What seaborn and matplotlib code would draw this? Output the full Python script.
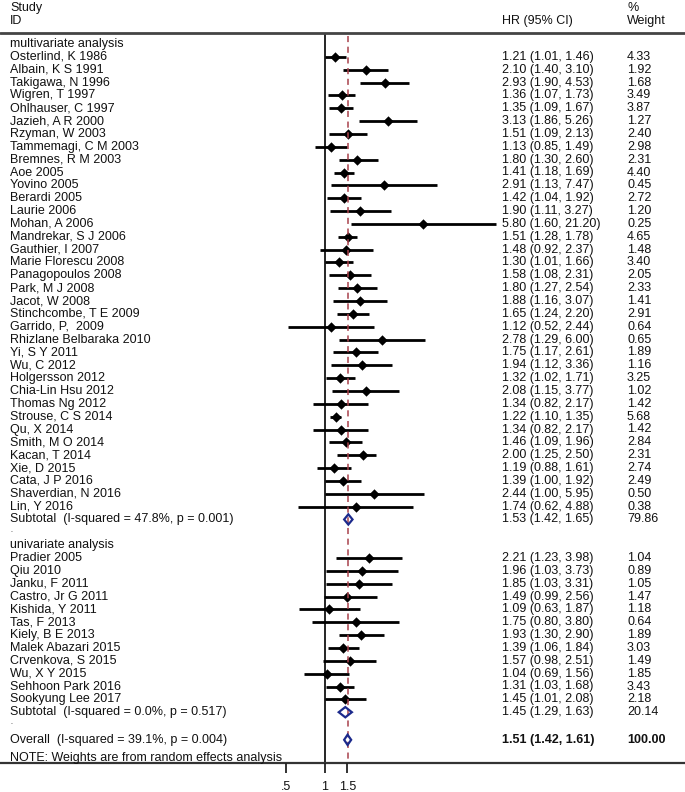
import numpy as np
import pandas as pd
import matplotlib
matplotlib.use("Agg")
import matplotlib.pyplot as plt
import matplotlib.transforms as mtransforms
import seaborn as sns

# ---- data ----
multi_study = ["Osterlind, K 1986", "Albain, K S 1991", "Takigawa, N 1996", "Wigren, T 1997",
               "Ohlhauser, C 1997", "Jazieh, A R 2000", "Rzyman, W 2003", "Tammemagi, C M 2003",
               "Bremnes, R M 2003", "Aoe 2005", "Yovino 2005", "Berardi 2005", "Laurie 2006",
               "Mohan, A 2006", "Mandrekar, S J 2006", "Gauthier, I 2007", "Marie Florescu 2008",
               "Panagopoulos 2008", "Park, M J 2008", "Jacot, W 2008", "Stinchcombe, T E 2009",
               "Garrido, P,  2009", "Rhizlane Belbaraka 2010", "Yi, S Y 2011", "Wu, C 2012",
               "Holgersson 2012", "Chia-Lin Hsu 2012", "Thomas Ng 2012", "Strouse, C S 2014",
               "Qu, X 2014", "Smith, M O 2014", "Kacan, T 2014", "Xie, D 2015", "Cata, J P 2016",
               "Shaverdian, N 2016", "Lin, Y 2016"]
multi_hr = [1.21, 2.10, 2.93, 1.36, 1.35, 3.13, 1.51, 1.13, 1.80, 1.41, 2.91, 1.42, 1.90, 5.80,
            1.51, 1.48, 1.30, 1.58, 1.80, 1.88, 1.65, 1.12, 2.78, 1.75, 1.94, 1.32, 2.08, 1.34,
            1.22, 1.34, 1.46, 2.00, 1.19, 1.39, 2.44, 1.74]
multi_lo = [1.01, 1.40, 1.90, 1.07, 1.09, 1.86, 1.09, 0.85, 1.30, 1.18, 1.13, 1.04, 1.11, 1.60,
            1.28, 0.92, 1.01, 1.08, 1.27, 1.16, 1.24, 0.52, 1.29, 1.17, 1.12, 1.02, 1.15, 0.82,
            1.10, 0.82, 1.09, 1.25, 0.88, 1.00, 1.00, 0.62]
multi_hi = [1.46, 3.10, 4.53, 1.73, 1.67, 5.26, 2.13, 1.49, 2.60, 1.69, 7.47, 1.92, 3.27, 21.20,
            1.78, 2.37, 1.66, 2.31, 2.54, 3.07, 2.20, 2.44, 6.00, 2.61, 3.36, 1.71, 3.77, 2.17,
            1.35, 2.17, 1.96, 2.50, 1.61, 1.92, 5.95, 4.88]
multi_wt = [4.33, 1.92, 1.68, 3.49, 3.87, 1.27, 2.40, 2.98, 2.31, 4.40, 0.45, 2.72, 1.20, 0.25,
            4.65, 1.48, 3.40, 2.05, 2.33, 1.41, 2.91, 0.64, 0.65, 1.89, 1.16, 3.25, 1.02, 1.42,
            5.68, 1.42, 2.84, 2.31, 2.74, 2.49, 0.50, 0.38]

uni_study = ["Pradier 2005", "Qiu 2010", "Janku, F 2011", "Castro, Jr G 2011", "Kishida, Y 2011",
             "Tas, F 2013", "Kiely, B E 2013", "Malek Abazari 2015", "Crvenkova, S 2015",
             "Wu, X Y 2015", "Sehhoon Park 2016", "Sookyung Lee 2017"]
uni_hr = [2.21, 1.96, 1.85, 1.49, 1.09, 1.75, 1.93, 1.39, 1.57, 1.04, 1.31, 1.45]
uni_lo = [1.23, 1.03, 1.03, 0.99, 0.63, 0.80, 1.30, 1.06, 0.98, 0.69, 1.03, 1.01]
uni_hi = [3.98, 3.73, 3.31, 2.56, 1.87, 3.80, 2.90, 1.84, 2.51, 1.56, 1.68, 2.08]
uni_wt = [1.04, 0.89, 1.05, 1.47, 1.18, 0.64, 1.89, 3.03, 1.49, 1.85, 3.43, 2.18]

group_names = ["multivariate analysis", "univariate analysis"]
sub_hr = [1.53, 1.45]
sub_lo = [1.42, 1.29]
sub_hi = [1.65, 1.63]
sub_wt = [79.86, 20.14]
sub_i2 = [47.8, 0.0]
sub_p = [0.001, 0.517]

overall_hr, overall_lo, overall_hi = 1.51, 1.42, 1.61
overall_i2, overall_p = 39.1, 0.004

xticks = [0.5, 1, 1.5]
xtick_labels = [".5", "1", "1.5"]

# ---- layout (pixels) ----
W, H = 685, 792
Y0, STEP = 44, 12.85
X_ONE, PX_PER_LN = 324.5, 56.0
FS = 9
TXT = "#111111"
NAVY = "#1c2a8c"
RED = "#a8414b"


def row(px):
    return (px - Y0) / STEP


def hr_text(h, lo, hi):
    return f"{h:.2f} ({lo:.2f}, {hi:.2f})"


# assemble rows
groups = [(multi_study, multi_hr, multi_lo, multi_hi, multi_wt),
          (uni_study, uni_hr, uni_lo, uni_hi, uni_wt)]
study_rows = []
heads, subs, dots = [], [], []
r = 0
for g, (st, h, lo, hi, wt) in enumerate(groups):
    heads.append(r)
    r += 1
    for i in range(len(st)):
        study_rows.append(dict(study=st[i], hr=h[i], lo=lo[i], hi=hi[i], wt=wt[i], row=r))
        r += 1
    subs.append(r)
    r += 1
    dots.append(r)
    r += 1
overall_row = r + 0.15
note_row = r + 1.6
df = pd.DataFrame(study_rows)

sns.set_style("white")
plt.rcParams["font.family"] = ["Liberation Sans", "DejaVu Sans"]

fig = plt.figure(figsize=(W / 100, H / 100), dpi=100)
ax = fig.add_axes([0, 0, 1, 1])
ax.set_xscale("log")

# CI lines and point estimates
ax.hlines(df["row"], df["lo"], df["hi"], color="black", lw=2.0, zorder=3)
sns.scatterplot(data=df, x="hr", y="row", marker="D", s=28, color="black",
                edgecolor="black", linewidth=0, ax=ax, zorder=4, legend=False)

# reference lines
ax.vlines(1, row(33), row(763), color="black", lw=1.2, zorder=2)
ax.vlines(overall_hr, row(36), row(763), color=RED, lw=1.1,
          linestyles=(0, (4, 3)), zorder=5)

# pooled diamonds
pooled = list(zip(subs, sub_hr, sub_lo, sub_hi)) + [(overall_row, overall_hr, overall_lo, overall_hi)]
for pr, h, lo, hi in pooled:
    ax.fill([lo, h, hi, h], [pr, pr - 0.4, pr, pr + 0.4], facecolor="none",
            edgecolor=NAVY, lw=1.6, zorder=6)

# frame lines and x axis
ax.axhline(row(33), color="#444444", lw=2.0)
ax.axhline(row(763), color="#333333", lw=1.6)
ax.vlines(xticks, row(763), row(773), color="#222222", lw=1.3)

ax.set_xlim(np.exp(-X_ONE / PX_PER_LN), np.exp((W - X_ONE) / PX_PER_LN))
ax.set_ylim(row(H), row(0))
ax.set_axis_off()

tr = mtransforms.blended_transform_factory(ax.transAxes, ax.transData)
XL, XHR, XW = 10 / W, 502 / W, 627 / W


def put(x, y, s, **kw):
    ax.text(x, y, s, transform=tr, va="center", ha="left", fontsize=FS, color=TXT, **kw)


# header
put(XL, row(8), "Study")
put(XL, row(21), "ID")
put(XHR, row(21), "HR (95% CI)")
put(XW, row(8), "%")
put(XW, row(21), "Weight")

for g, name in enumerate(group_names):
    put(XL, heads[g], name)
    put(XL, subs[g], f"Subtotal  (I-squared = {sub_i2[g]:.1f}%, p = {sub_p[g]:.3f})")
    put(XHR, subs[g], hr_text(sub_hr[g], sub_lo[g], sub_hi[g]))
    put(XW, subs[g], f"{sub_wt[g]:.2f}")
    # small separator dot sitting just above the next row
    ax.text(XL, dots[g] + 0.1, ".", transform=tr, va="bottom", ha="left",
            fontsize=5, color=TXT)

for _, d in df.iterrows():
    put(XL, d["row"], d["study"])
    put(XHR, d["row"], hr_text(d["hr"], d["lo"], d["hi"]))
    put(XW, d["row"], f"{d['wt']:.2f}")

put(XL, overall_row, f"Overall  (I-squared = {overall_i2:.1f}%, p = {overall_p:.3f})")
put(XHR, overall_row, hr_text(overall_hr, overall_lo, overall_hi), fontweight="bold")
put(XW, overall_row, "100.00", fontweight="bold")
put(XL, note_row, "NOTE: Weights are from random effects analysis")

for xt, lab in zip(xticks, xtick_labels):
    ax.text(xt, row(787), lab, ha="center", va="center", fontsize=FS, color=TXT)

fig.savefig("out.png", dpi=100)
plt.close(fig)
